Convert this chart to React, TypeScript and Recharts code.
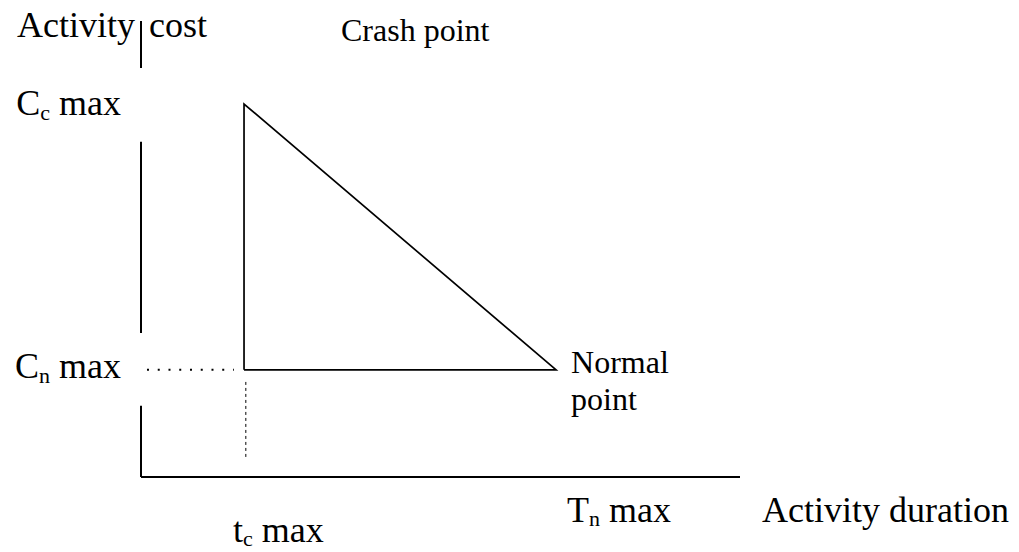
import React from 'react';
import { ComposedChart, Line, XAxis, YAxis, ReferenceLine, ReferenceDot, Label } from 'recharts';

// ---- data ----
const durationTicks = [17.2, 69.3]; // t_c max, T_n max
const durationTickMain = ['t', 'T'];
const durationTickSub = ['c', 'n'];
const costTicks = [81.8, 23.5]; // C_c max, C_n max
const costTickMain = ['C', 'C'];
const costTickSub = ['c', 'n'];
const tickSuffix = ' max';

const triangleDuration = [17.2, 17.2, 69.3, 17.2];
const triangleCost = [23.5, 81.8, 23.5, 23.5];

const costAxisSegments = [
  [0, 15.6],
  [31.6, 73.5],
  [89.7, 100],
];
const guideHorizontalX = [1.0, 15.5];
const guideVerticalX = 17.5;
const guideVerticalY = [4.4, 21.3];

const crashPoint = { duration: 17.2, cost: 81.8, name: 'Crash point' };
const normalPoint = { duration: 69.3, cost: 23.5, name: ['Normal', 'point'] };
const yAxisTitle = 'Activity cost';
const xAxisTitle = 'Activity duration';

const triangleData = triangleDuration.map((d, i) => ({ duration: d, cost: triangleCost[i] }));

// ---- styles ----
const FONT = "'Liberation Serif', 'Times New Roman', serif";
const BIG = 36;
const SMALL = 32;
const SUB = 22;
const xTickOffsets = [
  { dx: -11, dy: 65 },
  { dx: 11, dy: 45 },
];
const yTickOffsets = [
  { dx: -20, dy: 11 },
  { dx: -20, dy: 8 },
];

const XTick = (props: any) => {
  const { x, y, payload } = props;
  const i = durationTicks.indexOf(payload.value);
  if (i < 0) return null;
  const o = xTickOffsets[i];
  return (
    <text x={x + o.dx} y={y + o.dy} fontFamily={FONT} fontSize={BIG} fill="#000" textAnchor="start">
      {durationTickMain[i]}
      <tspan fontSize={SUB} dy={4}>{durationTickSub[i]}</tspan>
      <tspan dy={-4}>{tickSuffix}</tspan>
    </text>
  );
};

const YTick = (props: any) => {
  const { x, y, payload } = props;
  const i = costTicks.indexOf(payload.value);
  if (i < 0) return null;
  const o = yTickOffsets[i];
  return (
    <text x={x + o.dx} y={y + o.dy} fontFamily={FONT} fontSize={BIG} fill="#000" textAnchor="end">
      {costTickMain[i]}
      <tspan fontSize={SUB} dy={5}>{costTickSub[i]}</tspan>
      <tspan dy={-5}>{tickSuffix}</tspan>
    </text>
  );
};

export default function App() {
  return (
    <div style={{ position: 'absolute', left: 0, top: 0, background: '#fff' }}>
      <ComposedChart width={1019} height={552} margin={{ top: 21, right: 279, bottom: 0, left: 0 }}>
        <XAxis
          type="number"
          dataKey="duration"
          domain={[0, 100]}
          ticks={durationTicks}
          interval={0}
          height={75}
          tickLine={false}
          tickSize={0}
          tickMargin={0}
          axisLine={{ stroke: '#000', strokeWidth: 2 }}
          tick={<XTick />}
          allowDataOverflow
        >
          <Label
            content={(p: any) => {
              const vb = p.viewBox;
              return (
                <text x={vb.x + vb.width + 22} y={vb.y + 45} fontFamily={FONT} fontSize={BIG} fill="#000">
                  {xAxisTitle}
                </text>
              );
            }}
          />
        </XAxis>
        <YAxis
          type="number"
          dataKey="cost"
          domain={[0, 100]}
          ticks={costTicks}
          interval={0}
          width={141}
          tickLine={false}
          tickSize={0}
          tickMargin={0}
          axisLine={false}
          tick={<YTick />}
          allowDataOverflow
        >
          <Label
            content={(p: any) => {
              const vb = p.viewBox;
              return (
                <text x={17} y={vb.y + 16} fontFamily={FONT} fontSize={BIG} fill="#000" style={{ wordSpacing: 5 }}>
                  {yAxisTitle}
                </text>
              );
            }}
          />
        </YAxis>

        {costAxisSegments.map((s, i) => (
          <ReferenceLine
            key={'ax' + i}
            segment={[{ x: 0, y: s[0] }, { x: 0, y: s[1] }]}
            stroke="#000"
            strokeWidth={2}
            ifOverflow="visible"
          />
        ))}

        <ReferenceLine
          segment={[{ x: guideHorizontalX[0], y: normalPoint.cost }, { x: guideHorizontalX[1], y: normalPoint.cost }]}
          stroke="#000"
          strokeWidth={2}
          strokeDasharray="2 8.75"
          ifOverflow="visible"
        />
        <ReferenceLine
          segment={[{ x: guideVerticalX, y: guideVerticalY[0] }, { x: guideVerticalX, y: guideVerticalY[1] }]}
          stroke="#000"
          strokeWidth={1}
          strokeDasharray="3 3"
          ifOverflow="visible"
        />

        <Line
          data={triangleData}
          dataKey="cost"
          type="linear"
          stroke="#000"
          strokeWidth={1.7}
          dot={false}
          activeDot={false}
          isAnimationActive={false}
        />

        <ReferenceDot
          x={crashPoint.duration}
          y={crashPoint.cost}
          r={0}
          fill="none"
          stroke="none"
          ifOverflow="visible"
          label={(p: any) => {
            const vb = p.viewBox;
            return (
              <text x={vb.x + 97} y={vb.y - 63} fontFamily={FONT} fontSize={SMALL} fill="#000">
                {crashPoint.name}
              </text>
            );
          }}
        />
        <ReferenceDot
          x={normalPoint.duration}
          y={normalPoint.cost}
          r={0}
          fill="none"
          stroke="none"
          ifOverflow="visible"
          label={(p: any) => {
            const vb = p.viewBox;
            return (
              <text fontFamily={FONT} fontSize={SMALL} fill="#000">
                <tspan x={vb.x + 15} y={vb.y + 3}>{normalPoint.name[0]}</tspan>
                <tspan x={vb.x + 15} y={vb.y + 40}>{normalPoint.name[1]}</tspan>
              </text>
            );
          }}
        />
      </ComposedChart>
    </div>
  );
}
